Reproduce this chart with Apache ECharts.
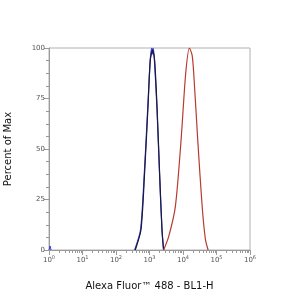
<!DOCTYPE html>
<html><head><meta charset="utf-8">
<script src="https://cdn.jsdelivr.net/npm/echarts@6/dist/echarts.min.js"></script>
<style>html,body{margin:0;padding:0;background:#fff}#c{width:300px;height:300px}</style>
</head><body><div id="c"></div>
<script>
// Fluorescence (BL1-H) values and percent of max
const blackX = [376, 557, 713, 902, 1057, 1239, 1422, 1679, 2004, 2366, 2642];
const blackY = [0, 10, 38, 71, 94, 99, 94, 71, 38, 10, 0];
const blueX = [360, 540, 700, 890, 1050, 1170, 1230, 1290, 1400, 1660, 1990, 2350, 2620];
const blueY = [0, 10, 38, 71, 94, 100, 97, 100, 94, 71, 38, 10, 0];
const blueEdgeX = [1, 1.08, 1.15];
const blueEdgeY = [0, 2, 0];
const redX = [2642, 3733, 5916, 8770, 12050, 15560, 18700, 20890, 27540, 37330, 46880, 56360];
const redY = [0, 6.6, 21.5, 54.5, 87.5, 100, 96.5, 87.5, 54.5, 21.5, 5, 0];
const yTicks = [0, 25, 50, 75, 100];
const xMinor = [];
for (let d = 1; d < 1000000; d *= 10) for (let k = 2; k <= 9; k++) xMinor.push(d * k);

const zip = (xs, ys) => xs.map((x, i) => [x, ys[i]]);
const chart = echarts.init(document.getElementById('c'), null, {renderer: 'canvas'});
const axisGray = '#9a9a9a';
chart.setOption({
  animation: false,
  grid: {left: 49, right: 50, top: 48, bottom: 50, show: true, borderColor: '#b0b0b0', borderWidth: 1,
    containLabel: false, outerBoundsMode: 'none'},
  xAxis: [{
    type: 'log', logBase: 10, min: 1, max: 1000000,
    name: 'Alexa Fluor™ 488 - BL1-H', nameLocation: 'middle', nameGap: 31,
    nameTextStyle: {fontFamily: 'DejaVu Sans', fontSize: 10, color: '#111'},
    axisLine: {show: true, lineStyle: {color: axisGray}},
    axisTick: {show: true, length: 5, lineStyle: {color: axisGray}},
    splitLine: {show: false},
    axisLabel: {
      margin: 5, color: '#555', fontFamily: 'DejaVu Sans', fontSize: 7,
      formatter: v => '10{s|' + Math.round(Math.log10(v)) + '}',
      rich: {s: {fontSize: 5, verticalAlign: 'top', padding: [0, 0, 6, 0], color: '#555'}}
    }
  }, {
    type: 'log', logBase: 10, min: 1, max: 1000000, position: 'bottom',
    axisLine: {show: false},
    axisTick: {show: true, length: 3, customValues: xMinor, lineStyle: {color: axisGray}},
    axisLabel: {show: false}, splitLine: {show: false}
  }],
  yAxis: {
    type: 'value', min: 0, max: 100, interval: 25,
    name: 'Percent of Max', nameLocation: 'middle', nameGap: 36,
    nameTextStyle: {fontFamily: 'DejaVu Sans', fontSize: 10, color: '#111'},
    axisLine: {show: true, lineStyle: {color: axisGray}},
    axisTick: {show: true, length: 5, lineStyle: {color: axisGray}},
    minorTick: {show: true, splitNumber: 4, length: 3, lineStyle: {color: axisGray}},
    splitLine: {show: false},
    axisLabel: {margin: 4, color: '#555', fontFamily: 'DejaVu Sans', fontSize: 7,
      customValues: yTicks}
  },
  series: [
    {type: 'line', data: zip(blueEdgeX, blueEdgeY), symbol: 'none', lineStyle: {color: '#3a3ad0', width: 1}},
    {type: 'line', data: zip(blueX, blueY), symbol: 'none', smooth: 0.25, lineStyle: {color: '#3a3ad0', width: 1.2}},
    {type: 'line', data: zip(blackX, blackY), symbol: 'none', smooth: 0.25, lineStyle: {color: '#1a1a3a', width: 1.2}},
    {type: 'line', data: zip(redX, redY), symbol: 'none', smooth: 0.25, lineStyle: {color: '#b83a2e', width: 1.2}}
  ]
});
</script></body></html>
